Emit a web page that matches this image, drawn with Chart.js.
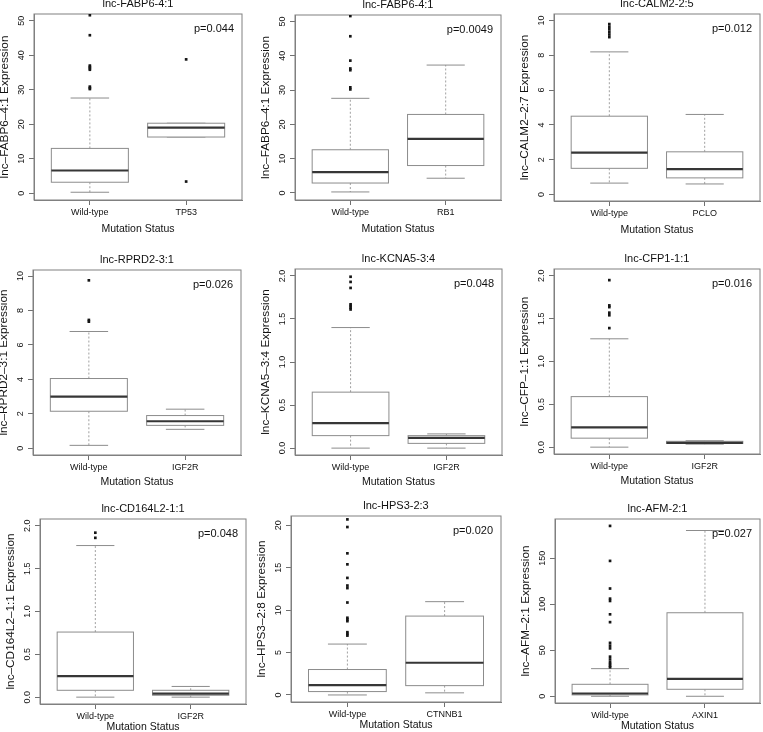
<!DOCTYPE html>
<html>
<head>
<meta charset="utf-8">
<script src="https://cdn.jsdelivr.net/npm/chart.js@4.4.1/dist/chart.umd.min.js"></script>
<style>
  html, body { margin: 0; padding: 0; background: #fff; overflow: hidden; }
  body { width: 763px; height: 732px; position: relative; }
  canvas { position: absolute; }
</style>
</head>
<body>
<script>
// one entry per panel, left-to-right, top-to-bottom
const titles = ['lnc-FABP6-4:1', 'lnc-FABP6-4:1', 'lnc-CALM2-2:5',
                'lnc-RPRD2-3:1', 'lnc-KCNA5-3:4', 'lnc-CFP1-1:1',
                'lnc-CD164L2-1:1', 'lnc-HPS3-2:3', 'lnc-AFM-2:1'];
const yTitles = ['lnc\u2013FABP6\u20134:1 Expression', 'lnc\u2013FABP6\u20134:1 Expression', 'lnc\u2013CALM2\u20132:7 Expression',
                 'lnc\u2013RPRD2\u20133:1 Expression', 'lnc\u2013KCNA5\u20133:4 Expression', 'lnc\u2013CFP\u20131:1 Expression',
                 'lnc\u2013CD164L2\u20131:1 Expression', 'lnc\u2013HPS3\u20132:8 Expression', 'lnc\u2013AFM\u20132:1 Expression'];
const pValues = ['p=0.044', 'p=0.0049', 'p=0.012', 'p=0.026', 'p=0.048', 'p=0.016', 'p=0.048', 'p=0.020', 'p=0.027'];
const wildLabel = 'Wild-type';
const mutants = ['TP53', 'RB1', 'PCLO', 'IGF2R', 'IGF2R', 'IGF2R', 'IGF2R', 'CTNNB1', 'AXIN1'];

// [lower whisker, Q1, median, Q3, upper whisker]
const wildStats = [
  [0.3, 3.2, 6.6, 13.0, 27.6],
  [0.3, 2.9, 6.1, 12.6, 27.6],
  [0.65, 1.5, 2.4, 4.5, 8.2],
  [0.17, 2.15, 3.0, 4.05, 6.78],
  [0.0, 0.145, 0.29, 0.65, 1.40],
  [0.0, 0.105, 0.23, 0.59, 1.265],
  [0.0, 0.08, 0.245, 0.76, 1.77],
  [0.0, 0.4, 1.15, 3.0, 6.0],
  [0.0, 1.5, 3.0, 13.0, 30.0]
];
const mutantStats = [
  [16.3, 16.3, 19.0, 20.3, 20.3],
  [4.3, 8.0, 15.8, 22.9, 37.3],
  [0.6, 0.95, 1.45, 2.45, 4.6],
  [1.1, 1.33, 1.57, 1.9, 2.27],
  [0.0, 0.055, 0.12, 0.145, 0.165],
  [0.035, 0.043, 0.05, 0.068, 0.075],
  [0.0, 0.022, 0.04, 0.08, 0.125],
  [0.25, 1.1, 3.8, 9.3, 11.0],
  [0.0, 7.6, 18.8, 90.7, 180]
];
const wildOutliers = [
  [51.6, 45.8, 37.0, 36.6, 36.2, 35.8, 30.9, 30.5, 30.2],
  [51.6, 45.7, 38.6, 36.3, 35.8, 30.8, 30.2],
  [9.8, 9.65, 9.5, 9.35, 9.2, 9.05],
  [9.75, 7.45, 7.35],
  [1.99, 1.93, 1.86, 1.67, 1.65, 1.63, 1.61],
  [1.95, 1.655, 1.635, 1.57, 1.54, 1.39],
  [1.92, 1.86],
  [20.7, 19.8, 16.7, 15.4, 13.8, 12.9, 12.6, 10.9, 9.1, 8.9, 8.7, 7.4, 7.2, 7.0],
  [185, 147, 117, 106, 103.5, 89, 80.5, 58, 55, 52, 43, 40, 37, 35, 33, 31.5]
];
const mutantOutliers = [[38.8, 3.4], [], [], [], [], [], [], [], []];

const yTicks = [
  [0, 10, 20, 30, 40, 50], [0, 10, 20, 30, 40, 50], [0, 2, 4, 6, 8, 10],
  [0, 2, 4, 6, 8, 10], [0, 0.5, 1, 1.5, 2], [0, 0.5, 1, 1.5, 2],
  [0, 0.5, 1, 1.5, 2], [0, 5, 10, 15, 20], [0, 50, 100, 150]
];
const yDecimals = [0, 0, 0, 0, 1, 1, 1, 0, 0];
const yRanges = [
  [-1.95, 51.95], [-2.05, 51.9], [-0.38, 10.38],
  [-0.39, 10.35], [-0.08, 2.08], [-0.08, 2.08],
  [-0.08, 2.08], [-0.83, 21.1], [-7.3, 192.5]
];

// layout: plot frame [left, top, right, bottom] in page pixels
const plotBoxes = [
  [34, 14, 242, 200], [295, 15, 501, 200], [554, 14, 760, 201],
  [33, 270, 241, 455], [295, 269, 502, 455], [554, 269, 760, 454],
  [40, 519, 246, 704], [291, 516, 501, 702], [555, 519, 760, 703]
];
// distance from plot bottom to centre of "Mutation Status", per row
const xTitleGaps = [29, 27, 23];

const FONT = '"Liberation Sans", Arial, Helvetica, sans-serif';
const TITLE_H = 17, YAXIS_W = 40, XAXIS_H = 36, PAD_R = 2;
const TICK_SIZE = 9;
const YTITLE_SIZE = 11.8, XTITLE_SIZE = 10.5;

Chart.defaults.font.family = FONT;
Chart.defaults.color = '#111';

const measureCtx = document.createElement('canvas').getContext('2d');
measureCtx.font = TICK_SIZE + 'px ' + FONT;

const boxPlugin = {
    id: 'boxplot',
    beforeDatasetsDraw(chart, args, opts) {
        const { ctx, chartArea } = chart;
        const x = chart.scales.x, y = chart.scales.y;
        const line = (x0, y0, x1, y1) => {
            ctx.beginPath();
            ctx.moveTo(x0, y0);
            ctx.lineTo(x1, y1);
            ctx.stroke();
        };
        ctx.save();
        opts.stats.forEach((s, i) => {
            const [lo, q1, med, q3, hi] = s.map(v => y.getPixelForValue(v));
            const c = i + 1;
            const cx = x.getPixelForValue(c);
            const bx0 = x.getPixelForValue(c - 0.4), bx1 = x.getPixelForValue(c + 0.4);
            const sx0 = x.getPixelForValue(c - 0.2), sx1 = x.getPixelForValue(c + 0.2);

            ctx.lineWidth = 1;
            ctx.strokeStyle = '#a0a0a0';
            ctx.setLineDash([2, 2]);
            line(cx, q3, cx, hi);
            line(cx, q1, cx, lo);
            ctx.setLineDash([]);
            ctx.strokeStyle = '#8c8c8c';
            line(sx0, hi, sx1, hi);
            line(sx0, lo, sx1, lo);

            ctx.fillStyle = '#fff';
            ctx.fillRect(bx0, q3, bx1 - bx0, q1 - q3);
            ctx.strokeRect(bx0, q3, bx1 - bx0, q1 - q3);

            ctx.strokeStyle = '#363636';
            ctx.lineWidth = 2.2;
            line(bx0, med, bx1, med);
        });

        ctx.lineWidth = 1;
        ctx.strokeStyle = '#808080';
        ctx.strokeRect(chartArea.left, chartArea.top, chartArea.right - chartArea.left, chartArea.bottom - chartArea.top);

        ctx.fillStyle = '#111';
        ctx.font = '11px ' + FONT;
        ctx.textAlign = 'right';
        ctx.textBaseline = 'middle';
        ctx.fillText(opts.label, chartArea.right - 8, chartArea.top + 15);
        ctx.restore();
    }
};

function makePanel(i) {
    const [L, T, R, B] = plotBoxes[i];
    const canvas = document.createElement('canvas');
    const w = R - L + YAXIS_W + PAD_R;
    const h = TITLE_H + (B - T) + XAXIS_H;
    canvas.width = w;
    canvas.height = h;
    canvas.style.left = (L - YAXIS_W) + 'px';
    canvas.style.top = (T - TITLE_H) + 'px';
    canvas.style.width = w + 'px';
    canvas.style.height = h + 'px';
    document.body.appendChild(canvas);

    const tickLabels = yTicks[i].map(v => v.toFixed(yDecimals[i]));
    const widest = Math.max(...tickLabels.map(t => measureCtx.measureText(t).width));
    const xTitlePad = XAXIS_H - XTITLE_SIZE * 0.6 - xTitleGaps[Math.floor(i / 3)];

    const points = wildOutliers[i].map(v => ({ x: 1, y: v }))
        .concat(mutantOutliers[i].map(v => ({ x: 2, y: v })));

    return new Chart(canvas, {
        type: 'scatter',
        data: {
            datasets: [{
                data: points,
                pointStyle: 'rect',
                pointRadius: 1.9,
                pointHoverRadius: 1.9,
                backgroundColor: '#151515',
                borderWidth: 0
            }]
        },
        options: {
            responsive: false,
            animation: false,
            layout: { padding: { left: 0, top: 0, right: PAD_R, bottom: 0 } },
            plugins: {
                legend: { display: false },
                tooltip: { enabled: false },
                title: {
                    display: true,
                    text: titles[i],
                    fullSize: false,
                    color: '#111',
                    font: { size: 11, weight: 'normal', lineHeight: 1.2 },
                    padding: { top: 0, bottom: 3.8 }
                },
                boxplot: { stats: [wildStats[i], mutantStats[i]], label: pValues[i] }
            },
            scales: {
                x: {
                    type: 'linear',
                    min: 0.42,
                    max: 2.58,
                    afterBuildTicks: s => { s.ticks = [{ value: 1 }, { value: 2 }]; },
                    afterFit: s => { s.height = XAXIS_H; s.paddingLeft = 0; s.paddingRight = 0; },
                    ticks: {
                        callback: (v, k) => (k === 0 ? wildLabel : mutants[i]),
                        autoSkip: false,
                        maxRotation: 0,
                        padding: 2,
                        color: '#111',
                        font: { size: TICK_SIZE }
                    },
                    grid: { drawOnChartArea: false, tickLength: 5, color: '#707070' },
                    border: { color: '#808080' },
                    title: {
                        display: true,
                        text: 'Mutation Status',
                        color: '#111',
                        font: { size: XTITLE_SIZE, lineHeight: 1.2 },
                        padding: { top: 0, bottom: xTitlePad }
                    }
                },
                y: {
                    type: 'linear',
                    min: yRanges[i][0],
                    max: yRanges[i][1],
                    afterBuildTicks: s => { s.ticks = yTicks[i].map(v => ({ value: v })); },
                    afterFit: s => { s.width = YAXIS_W; s.paddingTop = 0; s.paddingBottom = 0; },
                    ticks: {
                        callback: (v, k) => tickLabels[k],
                        autoSkip: false,
                        minRotation: 90,
                        maxRotation: 90,
                        crossAlign: 'center',
                        padding: 7 - widest / 2,
                        color: '#111',
                        font: { size: TICK_SIZE }
                    },
                    grid: { drawOnChartArea: false, tickLength: 5, color: '#707070' },
                    border: { color: '#808080' },
                    title: {
                        display: true,
                        text: yTitles[i],
                        color: '#111',
                        font: { size: YTITLE_SIZE, lineHeight: 1.2 },
                        padding: { top: YAXIS_W - 29 - YTITLE_SIZE * 0.6, bottom: 0 }
                    }
                }
            }
        },
        plugins: [boxPlugin]
    });
}

document.addEventListener('DOMContentLoaded', function () {
    titles.forEach((t, i) => makePanel(i));
});
</script>
</body>
</html>
